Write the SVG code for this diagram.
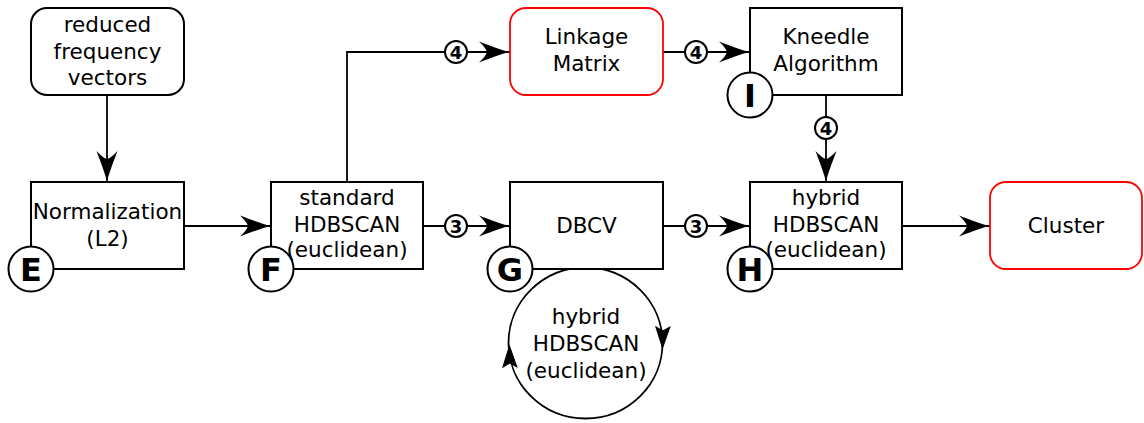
<svg xmlns="http://www.w3.org/2000/svg" width="1144" height="423" viewBox="0 0 1144 423">
<style>
  .box{fill:#fff;stroke:#000;stroke-width:2}
  .rbox{fill:#fff;stroke:#000;stroke-width:2}
  .red{fill:#fff;stroke:#ff0000;stroke-width:1.8}
  .badge{fill:#fff;stroke:#000;stroke-width:2}
  .t{font-family:"DejaVu Sans",sans-serif;font-size:21.5px;fill:#000;text-anchor:middle}
  .bl{font-family:"DejaVu Sans",sans-serif;font-size:32px;font-weight:bold;fill:#000;text-anchor:middle}
  .num{fill:#fff;stroke:#000;stroke-width:2}
  .nt{font-family:"DejaVu Sans",sans-serif;font-size:18px;font-weight:bold;fill:#000;text-anchor:middle}
  .ln{fill:none;stroke:#000;stroke-width:1.8}
  .ah{fill:#000;stroke:#000;stroke-width:1;stroke-linejoin:miter}
</style>
<defs>
  <marker id="arr" markerUnits="userSpaceOnUse" markerWidth="34" markerHeight="24" viewBox="-32 -12 34 24" refX="0" refY="0" orient="auto">
    <path d="M0,0 C-9,-2 -19,-6 -31,-10.5 Q-24,-4 -23,0 Q-24,4 -31,10.5 C-19,6 -9,2 0,0 Z" fill="#000"/>
  </marker>
</defs>

<g id="connectors">
  <line class="ln" x1="107" y1="95" x2="107" y2="182" marker-end="url(#arr)"/>
  <line class="ln" x1="184" y1="226" x2="271" y2="226" marker-end="url(#arr)"/>
  <polyline class="ln" points="347,182 347,52 510,52" marker-end="url(#arr)"/>
  <line class="ln" x1="663" y1="52" x2="750" y2="52" marker-end="url(#arr)"/>
  <line class="ln" x1="826" y1="95" x2="826" y2="182" marker-end="url(#arr)"/>
  <line class="ln" x1="423" y1="226" x2="510" y2="226" marker-end="url(#arr)"/>
  <line class="ln" x1="663" y1="226" x2="750" y2="226" marker-end="url(#arr)"/>
  <line class="ln" x1="902" y1="226" x2="990" y2="226" marker-end="url(#arr)"/>
  <g id="loop">
    <ellipse class="ln" cx="585.5" cy="343" rx="77" ry="75.5"/>
    <path class="ah" d="M0,0 L-21,-7 L-17,0 L-21,7 Z" transform="translate(662.5,348) rotate(91)"/>
    <path class="ah" d="M0,0 L-21,-7 L-17,0 L-21,7 Z" transform="translate(509.5,346) rotate(-91)"/>
  </g>
  <g id="labels">
    <circle class="num" cx="456" cy="52" r="11"/><text class="nt" x="456" y="58.5">4</text>
    <circle class="num" cx="696" cy="52" r="11"/><text class="nt" x="696" y="58.5">4</text>
    <circle class="num" cx="826" cy="128" r="11"/><text class="nt" x="826" y="134.5">4</text>
    <circle class="num" cx="456" cy="226" r="11"/><text class="nt" x="456" y="232.5">3</text>
    <circle class="num" cx="696" cy="226" r="11"/><text class="nt" x="696" y="232.5">3</text>
  </g>
</g>

<g id="reduced">
  <rect class="rbox" x="31" y="8" width="153" height="87" rx="16"/>
  <text class="t" x="107.5" y="32">reduced</text>
  <text class="t" x="107.5" y="58.5">frequency</text>
  <text class="t" x="107.5" y="85">vectors</text>
</g>

<g id="E">
  <rect class="box" x="31" y="182" width="153" height="87"/>
  <text class="t" x="107.5" y="219">Normalization</text>
  <text class="t" x="107.5" y="246">(L2)</text>
  <circle class="badge" cx="31" cy="269" r="22.5"/>
  <text class="bl" x="31" y="281">E</text>
</g>

<g id="F">
  <rect class="box" x="271" y="182" width="152" height="87"/>
  <text class="t" x="347" y="205">standard</text>
  <text class="t" x="347" y="231.5">HDBSCAN</text>
  <text class="t" x="347" y="257">(euclidean)</text>
  <circle class="badge" cx="271" cy="269" r="22.5"/>
  <text class="bl" x="271" y="281">F</text>
</g>

<g id="G">
  <rect class="box" x="510" y="182" width="153" height="87"/>
  <text class="t" x="586.5" y="233">DBCV</text>
  <circle class="badge" cx="510" cy="269" r="22.5"/>
  <text class="bl" x="510" y="281">G</text>
</g>

<g id="H">
  <rect class="box" x="750" y="182" width="152" height="87"/>
  <text class="t" x="826" y="205">hybrid</text>
  <text class="t" x="826" y="231.5">HDBSCAN</text>
  <text class="t" x="826" y="257">(euclidean)</text>
  <circle class="badge" cx="750" cy="269" r="22.5"/>
  <text class="bl" x="750" y="281">H</text>
</g>

<g id="linkage">
  <rect class="red" x="510" y="8" width="153" height="87" rx="16"/>
  <text class="t" x="586.5" y="44">Linkage</text>
  <text class="t" x="586.5" y="71">Matrix</text>
</g>

<g id="I">
  <rect class="box" x="750" y="8" width="152" height="87"/>
  <text class="t" x="826" y="44">Kneedle</text>
  <text class="t" x="826" y="71">Algorithm</text>
  <circle class="badge" cx="750" cy="95" r="22.5"/>
  <text class="bl" x="750" y="107">I</text>
</g>

<g id="cluster">
  <rect class="red" x="990" y="182" width="152" height="87" rx="16"/>
  <text class="t" x="1066" y="233">Cluster</text>
</g>

<g id="loopnode">
  <text class="t" x="586" y="324">hybrid</text>
  <text class="t" x="586" y="351">HDBSCAN</text>
  <text class="t" x="586" y="378">(euclidean)</text>
</g>
</svg>
